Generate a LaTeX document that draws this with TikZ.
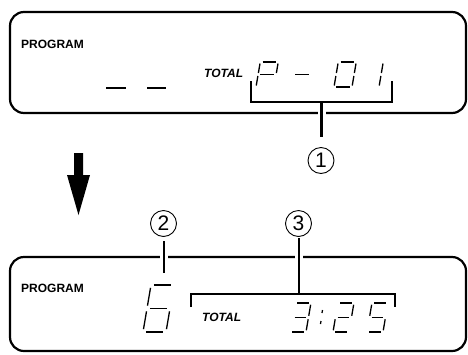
\documentclass[tikz,border=0pt]{standalone}
\usepackage{fontspec}
\setmainfont{Liberation Sans}
\newcommand{\segA}{\draw[seg] (0.13,-1)--(0.87,-1);}
\newcommand{\segB}{\draw[seg] (1,-0.94)--(1,-0.56);}
\newcommand{\segC}{\draw[seg] (1,-0.44)--(1,-0.06);}
\newcommand{\segD}{\draw[seg] (0.13,0)--(0.87,0);}
\newcommand{\segE}{\draw[seg] (0,-0.44)--(0,-0.06);}
\newcommand{\segF}{\draw[seg] (0,-0.94)--(0,-0.56);}
\newcommand{\segG}{\draw[seg] (0.13,-0.5)--(0.87,-0.5);}
\newcommand{\segdigit}[5]{%
  \begin{scope}[shift={(#1,#2)},xslant=0.17,xscale=#3,yscale=#4]
    \foreach \s in {#5}{\csname seg\s\endcsname}
  \end{scope}}
\begin{document}
\begin{tikzpicture}[x=1pt,y=-1pt,
  box/.style={draw=black, line width=2.2pt, rounded corners=14pt},
  brk/.style={draw=black, line width=2.2pt},
  halo/.style={draw=white, line width=8pt},
  seg/.style={draw=black, line width=1.3pt},
  dashbar/.style={draw=black, line width=2.5pt},
  lbl/.style={font=\fontsize{12}{12}\selectfont\bfseries, inner sep=0pt, anchor=west},
  tot/.style={font=\fontsize{12}{12}\selectfont\bfseries\itshape, inner sep=0pt, anchor=west},
  callout/.style={circle, draw=black, line width=0.9pt, minimum size=26pt, inner sep=0pt, font=\fontsize{21}{21}\selectfont}
]
\useasboundingbox (0,0) rectangle (468,354);

% ---------- top display ----------
\draw[box] (10,12) rectangle (466,113);
\node[lbl] (prog1) at (21,44) {PROGRAM};
\node[tot] (tot1) at (204,73) {TOTAL};
\draw[dashbar] (106,88) -- (126,88);
\draw[dashbar] (147,88) -- (166,88);
\segdigit{256}{87}{18}{25}{A,B,F,E,G}
\segdigit{291}{87}{18}{25}{G}
\segdigit{334}{87}{18}{25}{A,B,C,D,E,F}
\segdigit{361}{87}{18}{25}{B,C}

\coordinate (tbl) at (251,81);
\coordinate (tbr) at (392,81);
\coordinate (tbm) at (321.5,102);
\coordinate (t1end) at (321.5,137);
\draw[brk] (tbl) -- (tbl |- tbm) -- (tbr |- tbm) -- (tbr);
\draw[halo] (321.5,108) -- (321.5,118);
\draw[brk] (tbm) -- (t1end);
\node[callout] (c1) at (321,160.5) {1};

% ---------- arrow ----------
\fill[black] (74,153) -- (83,153) -- (83,175) -- (90,175) -- (78.5,215) -- (67,175) -- (74,175) -- cycle;

% ---------- bottom display ----------
\draw[box] (10,257) rectangle (466,351);
\node[lbl] (prog2) at (21,288) {PROGRAM};
\node[tot] (tot2) at (202,317) {TOTAL};
\segdigit{143}{332}{23}{47}{A,F,G,E,D,C}
\segdigit{290}{332}{16}{29}{A,B,G,C,D}
\segdigit{333}{332}{16}{29}{A,B,G,E,D}
\segdigit{367}{332}{16}{29}{A,F,G,C,D}
\draw[seg] (322.5,310) -- (322,313);
\draw[seg] (321,321) -- (320.5,324);

\node[callout] (c2) at (163.5,223.5) {2};
\node[callout] (c3) at (298.5,223.5) {3};
\coordinate (s2top) at (164,241);
\coordinate (s2bot) at (164,273);
\draw[halo] (164,251) -- (164,263);
\draw[brk] (s2top) -- (s2bot);

\coordinate (bbl) at (191,307);
\coordinate (bbr) at (395,307);
\coordinate (bbm) at (299,294);
\coordinate (s3top) at (299,238);
\draw[brk] (bbl) -- (bbl |- bbm) -- (bbr |- bbm) -- (bbr);
\draw[halo] (299,251) -- (299,263);
\draw[brk] (s3top) -- (bbm);
\end{tikzpicture}
\end{document}
